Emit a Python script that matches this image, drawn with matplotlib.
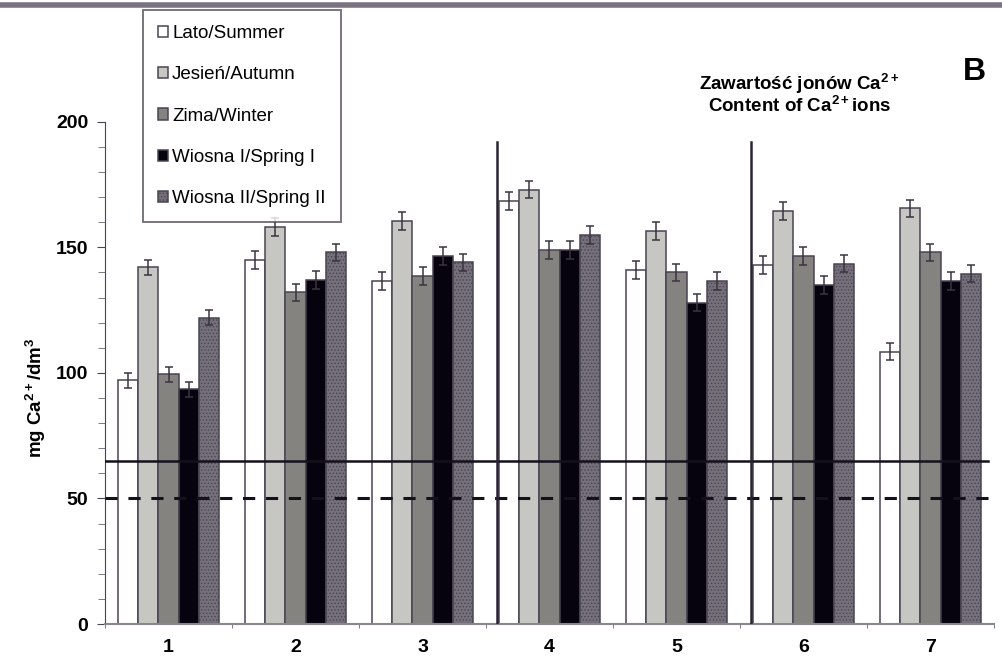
import numpy as np
import matplotlib
matplotlib.use("Agg")
import matplotlib.pyplot as plt
from matplotlib.ticker import MultipleLocator, FixedLocator

plt.rcParams['font.family'] = ['Liberation Sans', 'DejaVu Sans']
plt.rcParams['mathtext.fontset'] = 'custom'
plt.rcParams['mathtext.rm'] = 'Liberation Sans:bold'
plt.rcParams['mathtext.bf'] = 'Liberation Sans:bold'
plt.rcParams['mathtext.default'] = 'bf'
plt.rcParams['hatch.linewidth'] = 0.6

# dane
sites = ['1', '2', '3', '4', '5', '6', '7']
seasons = ['Lato/Summer', 'Jesień/Autumn', 'Zima/Winter', 'Wiosna I/Spring I', 'Wiosna II/Spring II']
lato = [97, 145, 136.5, 168.5, 141, 143, 108.5]
jesien = [142, 158, 160.5, 173, 156.5, 164.5, 165.5]
zima = [99.5, 132, 138.5, 149, 140, 146.5, 148]
wiosna1 = [93.5, 137, 146.5, 149, 128, 135, 136.5]
wiosna2 = [122, 148, 144, 155, 136.5, 143.5, 139.5]
errs = [3, 3.5, 3.5, 3.5, 3.5, 3.5, 3.5]
solid_limit = 65
dashed_limit = 50
separators = [2.59, 4.59]   # pionowe linie przed grupa 4 i 6
sep_top = 192

series = [lato, jesien, zima, wiosna1, wiosna2]
faces = ['#ffffff', '#c6c6c2', '#85837f', '#06020e', '#75707a']
hatches = [None, None, None, None, '.....']

fig = plt.figure(figsize=(10.02, 6.6), dpi=100)
ax = fig.add_axes([0.1048, 0.0545, 0.8872, 0.7611])

x = np.arange(len(sites))
w = 0.16
for i, vals in enumerate(series):
    pos = x - 0.4 + w * (i + 0.5)
    ax.bar(pos, vals, width=w, color=faces[i], edgecolor='#4a4452', linewidth=1.1,
           hatch=hatches[i], label=seasons[i], zorder=2)
    ax.errorbar(pos, vals, yerr=errs, fmt='none', ecolor='#3a3440', elinewidth=1.1,
                capsize=3, capthick=1.1, zorder=4)

ax.axhline(solid_limit, xmin=0, xmax=0.993, color='#14101c', lw=1.8, zorder=3)
ax.axhline(dashed_limit, color='#14101c', lw=2.2, ls=(0, (4, 3.5)), zorder=3)
for s in separators:
    ax.plot([s, s], [0, sep_top], color='#2a2432', lw=1.8, zorder=3)

ax.set_xlim(-0.5, 6.5)
ax.set_ylim(0, 200)
ax.set_xticks(x)
ax.set_xticklabels(sites, fontsize=14, fontweight='bold')
ax.xaxis.set_minor_locator(FixedLocator(np.arange(-0.5, 7, 1)))
ax.tick_params(axis='x', which='major', length=0, pad=11)
ax.tick_params(axis='x', which='minor', length=3, color='#6a6470')
ax.set_yticks([0, 50, 100, 150, 200])
ax.set_yticklabels(['0', '50', '100', '150', '200'], fontsize=14, fontweight='bold')
ax.yaxis.set_minor_locator(MultipleLocator(10))
ax.tick_params(axis='y', which='major', length=6, color='#4a4452', pad=6)
ax.tick_params(axis='y', which='minor', length=5, color='#6a6470')
ax.set_ylabel('mg Ca$^{2+}$/dm$^{3}$', fontsize=13.5, fontweight='bold')
ax.yaxis.set_label_coords(-0.064, 0.45)

for sp in ['top', 'right']:
    ax.spines[sp].set_visible(False)
ax.spines['left'].set_color('#4a4452')
ax.spines['bottom'].set_color('#8a8490')
ax.spines['bottom'].set_linewidth(1.5)

leg = fig.legend(loc='upper left', bbox_to_anchor=(0.1427, 0.985), borderaxespad=0,
                 frameon=True, fancybox=False, fontsize=13.5, handlelength=0.55,
                 handleheight=0.55, handletextpad=0.2, labelspacing=1.3,
                 borderpad=0.8)
leg.get_frame().set_edgecolor('#4a4452')
leg.get_frame().set_linewidth(1.3)

fig.text(0.798, 0.858, 'Zawartość jonów Ca$^{2+}$\nContent of Ca$^{2+}$ions',
         ha='center', va='center', fontsize=13.5, fontweight='bold', linespacing=1.0)
fig.text(0.972, 0.891, 'B', ha='center', va='center', fontsize=23, fontweight='bold')

fig.add_artist(plt.Line2D([0, 1], [0.993, 0.993], transform=fig.transFigure,
                          color='#7a7480', lw=4))

fig.savefig('out.png', dpi=100)
